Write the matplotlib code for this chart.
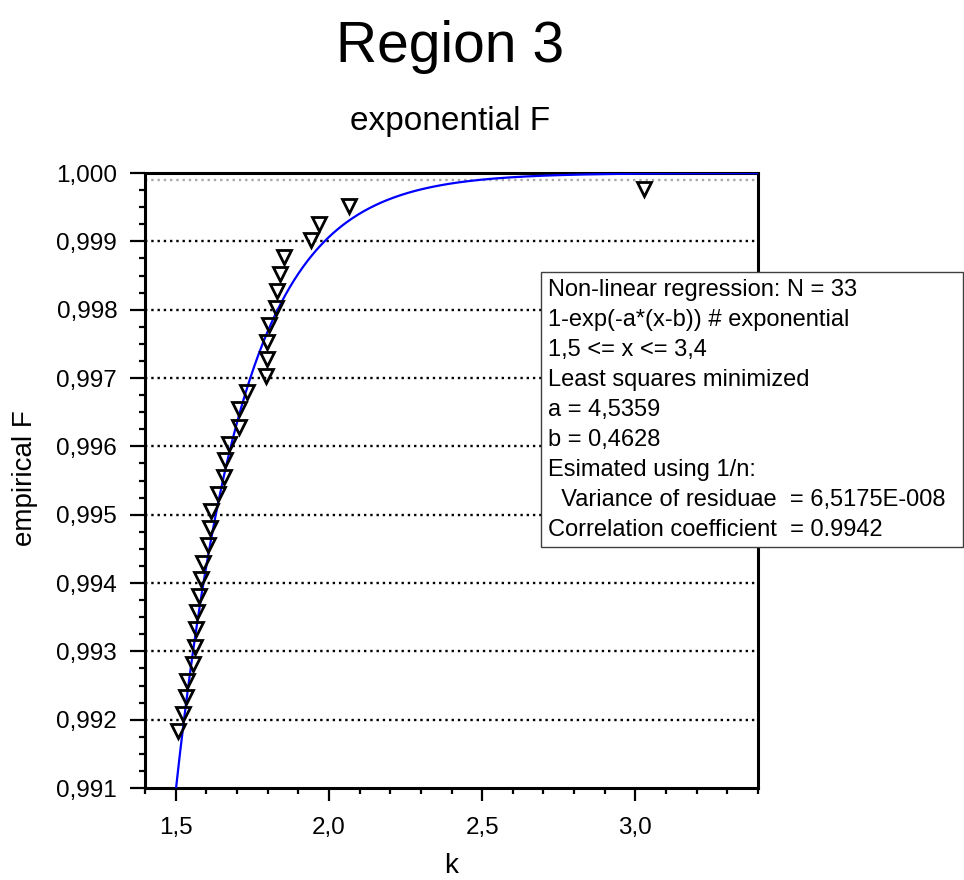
import numpy as np
import matplotlib
matplotlib.use('Agg')
import matplotlib.pyplot as plt
from matplotlib.patches import Rectangle
from matplotlib.ticker import MultipleLocator, FuncFormatter

plt.rcParams['font.family'] = ['Liberation Sans', 'DejaVu Sans']

# empirical distribution points (k, F)
k_values = [1.507, 1.523, 1.533, 1.536, 1.558, 1.563, 1.566, 1.571, 1.575, 1.582,
            1.588, 1.607, 1.612, 1.615, 1.637, 1.659, 1.661, 1.675, 1.707, 1.707,
            1.732, 1.795, 1.797, 1.797, 1.804, 1.826, 1.830, 1.841, 1.854, 1.942,
            1.968, 2.066, 3.029]
F_values = [0.99183, 0.99208, 0.99233, 0.99257, 0.99282, 0.99307, 0.99332, 0.99357,
            0.99381, 0.99406, 0.99430, 0.99456, 0.99480, 0.99505, 0.99530, 0.99555,
            0.99580, 0.99604, 0.99629, 0.99655, 0.99679, 0.99703, 0.99728, 0.99753,
            0.99778, 0.99803, 0.99827, 0.99852, 0.99877, 0.99902, 0.99926, 0.99951,
            0.99976]

# fitted model 1-exp(-a*(x-b))
a_fit = 4.5359
b_fit = 0.4628
x_range = (1.5, 3.4)

info_lines = [
    'Non-linear regression: N = 33',
    '1-exp(-a*(x-b)) # exponential',
    '1,5 <= x <= 3,4',
    'Least squares minimized',
    'a = 4,5359',
    'b = 0,4628',
    'Esimated using 1/n:',
    '  Variance of residuae  = 6,5175E-008',
    'Correlation coefficient  = 0.9942',
]

W, H = 964, 880
fig = plt.figure(figsize=(W / 100, H / 100), dpi=100)
ax = fig.add_axes([145 / W, 1 - 788 / H, 613 / W, 615 / H])

xs = np.linspace(x_range[0], x_range[1], 400)
ax.plot(xs, 1 - np.exp(-a_fit * (xs - b_fit)), color='#0000ff', lw=1.6, zorder=3)
ax.plot(k_values, F_values, linestyle='none', marker='v', ms=10,
        mfc='none', mec='black', mew=2.0, zorder=4)

ax.set_xlim(1.4, 3.4)
ax.set_ylim(0.991, 1.000)

# horizontal dotted grid at the major y ticks
for yv in np.arange(0.992, 0.9995, 0.001):
    ax.axhline(yv, color='black', ls=':', lw=1.7, zorder=1)
ax.axhline(0.9999, color='#a8a8a8', ls=':', lw=1.7, zorder=1)

ax.xaxis.set_major_locator(MultipleLocator(0.5))
ax.xaxis.set_minor_locator(MultipleLocator(0.1))
ax.yaxis.set_major_locator(MultipleLocator(0.001))
ax.yaxis.set_minor_locator(MultipleLocator(0.00025))
ax.xaxis.set_major_formatter(FuncFormatter(lambda v, p: f'{v:.1f}'.replace('.', ',')))
ax.yaxis.set_major_formatter(FuncFormatter(lambda v, p: f'{v:.3f}'.replace('.', ',')))

ax.tick_params(axis='x', which='major', length=9, width=1.6, labelsize=17.5, pad=12)
ax.tick_params(axis='y', which='major', length=11, width=1.6, labelsize=17.5, pad=9)
ax.tick_params(axis='both', which='minor', length=4.5, width=1.6)
for sp in ax.spines.values():
    sp.set_linewidth(2.2)

fig.text(450 / W, 1 - 62 / H, 'Region 3', ha='center', va='baseline', fontsize=41)
fig.text(450 / W, 1 - 130 / H, 'exponential F', ha='center', va='baseline', fontsize=24)
fig.text(25 / W, 1 - 478 / H, 'empirical F', ha='center', va='center',
         rotation=90, fontsize=20)
fig.text(451 / W, 1 - 866 / H, 'k', ha='center', va='center', fontsize=20)

# regression summary box
fig.add_artist(Rectangle((541 / W, 1 - 547 / H), 422 / W, 275 / H,
                         transform=fig.transFigure, facecolor='white',
                         edgecolor='#404040', lw=1, zorder=5))
for i, line in enumerate(info_lines):
    fig.text(548 / W, 1 - (296 + 30 * i) / H, line, ha='left', va='baseline',
             fontsize=17, zorder=6)

fig.savefig('out.png', dpi=100)
